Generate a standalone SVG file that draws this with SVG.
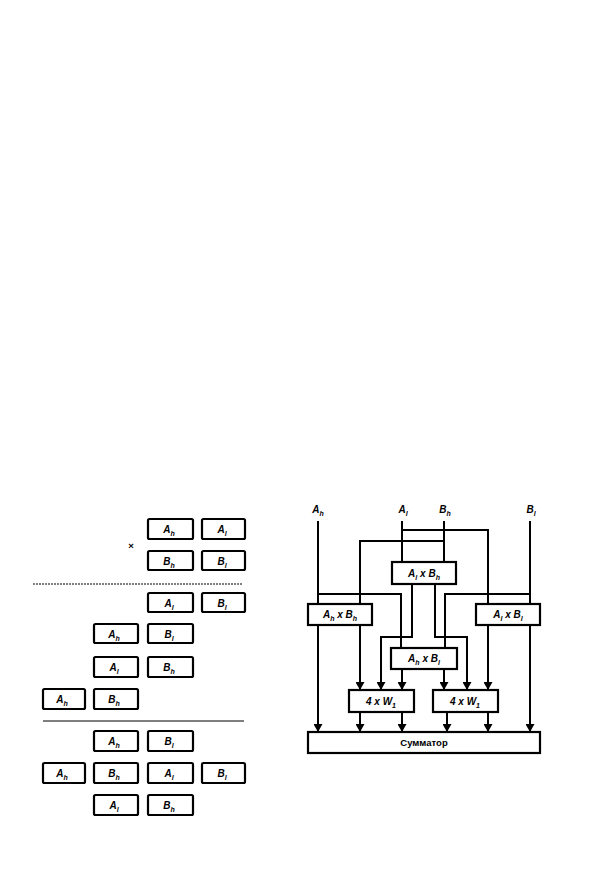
<svg xmlns="http://www.w3.org/2000/svg" width="603" height="882" viewBox="0 0 603 882">
<defs>
<style>
.b{fill:#fff;stroke:#000;stroke-width:2.2}
.t{font-family:"Liberation Sans",Arial,sans-serif;font-weight:bold;font-style:italic;font-size:10px;text-anchor:middle}
.s{font-size:7px}
.w{fill:none;stroke:#000;stroke-width:2}
.a{fill:none;stroke:#000;stroke-width:2;marker-end:url(#ah)}
.n{font-family:"Liberation Sans",Arial,sans-serif;font-weight:bold;font-size:9.5px;text-anchor:middle}
</style>
<marker id="ah" markerWidth="9" markerHeight="9" refX="8" refY="4.5" orient="auto" markerUnits="userSpaceOnUse"><path d="M0,0 L8,4.5 L0,9 z" fill="#000"/></marker>
</defs>
<rect width="603" height="882" fill="#fff"/>

<!-- Left scheme -->
<g id="left">
<text x="131" y="549" class="n" font-size="9">×</text>
<line x1="33" y1="584" x2="243" y2="584" stroke="#000" stroke-width="1" stroke-dasharray="2 1"/>
<line x1="43" y1="721" x2="244" y2="721" stroke="#000" stroke-width="1.2"/>
<g id="m_Ah"><rect class="b" x="148" y="519" width="45" height="20" rx="1.5"/><text class="t" x="169" y="533">A<tspan class="s" dy="3">h</tspan></text></g>
<g id="m_Al"><rect class="b" x="202" y="519" width="43" height="20" rx="1.5"/><text class="t" x="222" y="533">A<tspan class="s" dy="3">l</tspan></text></g>
<g id="m_Bh"><rect class="b" x="148" y="551" width="45" height="19" rx="1.5"/><text class="t" x="169" y="565">B<tspan class="s" dy="3">h</tspan></text></g>
<g id="m_Bl"><rect class="b" x="202" y="551" width="43" height="19" rx="1.5"/><text class="t" x="222" y="565">B<tspan class="s" dy="3">l</tspan></text></g>

<g id="r1_Al"><rect class="b" x="148" y="593" width="45" height="19" rx="1.5"/><text class="t" x="169" y="607">A<tspan class="s" dy="3">l</tspan></text></g>
<g id="r1_Bl"><rect class="b" x="202" y="593" width="43" height="19" rx="1.5"/><text class="t" x="222" y="607">B<tspan class="s" dy="3">l</tspan></text></g>
<g id="r2_Ah"><rect class="b" x="94" y="624" width="44" height="19" rx="1.5"/><text class="t" x="114" y="638">A<tspan class="s" dy="3">h</tspan></text></g>
<g id="r2_Bl"><rect class="b" x="148" y="624" width="45" height="19" rx="1.5"/><text class="t" x="169" y="638">B<tspan class="s" dy="3">l</tspan></text></g>
<g id="r3_Al"><rect class="b" x="94" y="657" width="44" height="20" rx="1.5"/><text class="t" x="114" y="671">A<tspan class="s" dy="3">l</tspan></text></g>
<g id="r3_Bh"><rect class="b" x="148" y="657" width="45" height="20" rx="1.5"/><text class="t" x="169" y="671">B<tspan class="s" dy="3">h</tspan></text></g>
<g id="r4_Ah"><rect class="b" x="43" y="689" width="42" height="20" rx="1.5"/><text class="t" x="62" y="703">A<tspan class="s" dy="3">h</tspan></text></g>
<g id="r4_Bh"><rect class="b" x="94" y="689" width="44" height="20" rx="1.5"/><text class="t" x="114" y="703">B<tspan class="s" dy="3">h</tspan></text></g>

<g id="r5_Ah"><rect class="b" x="94" y="731" width="44" height="20" rx="1.5"/><text class="t" x="114" y="745">A<tspan class="s" dy="3">h</tspan></text></g>
<g id="r5_Bl"><rect class="b" x="148" y="731" width="45" height="20" rx="1.5"/><text class="t" x="169" y="745">B<tspan class="s" dy="3">l</tspan></text></g>
<g id="r6_Ah"><rect class="b" x="43" y="763" width="42" height="20" rx="1.5"/><text class="t" x="62" y="777">A<tspan class="s" dy="3">h</tspan></text></g>
<g id="r6_Bh"><rect class="b" x="94" y="763" width="44" height="20" rx="1.5"/><text class="t" x="114" y="777">B<tspan class="s" dy="3">h</tspan></text></g>
<g id="r6_Al"><rect class="b" x="148" y="763" width="45" height="20" rx="1.5"/><text class="t" x="169" y="777">A<tspan class="s" dy="3">l</tspan></text></g>
<g id="r6_Bl"><rect class="b" x="202" y="763" width="43" height="20" rx="1.5"/><text class="t" x="222" y="777">B<tspan class="s" dy="3">l</tspan></text></g>
<g id="r7_Al"><rect class="b" x="94" y="795" width="44" height="20" rx="1.5"/><text class="t" x="114" y="809">A<tspan class="s" dy="3">l</tspan></text></g>
<g id="r7_Bh"><rect class="b" x="148" y="795" width="45" height="20" rx="1.5"/><text class="t" x="169" y="809">B<tspan class="s" dy="3">h</tspan></text></g>
</g>

<!-- Right scheme: connectors -->
<g id="connectors">
<path class="w" d="M318,521 V604"/>
<path class="w" d="M318,594 H401 V648"/>
<path class="w" d="M360,604 V541 H444"/>
<path class="w" d="M402,521 V562"/>
<path class="w" d="M402,530 H488 V604"/>
<path class="w" d="M444,521 V562"/>
<path class="w" d="M530,521 V604"/>
<path class="w" d="M530,594 H445 V648"/>
<path class="a" d="M318,625 V732"/>
<path class="a" d="M360,625 V690"/>
<path class="a" d="M412,584 V637 H381 V690"/>
<path class="a" d="M435,584 V637 H467 V690"/>
<path class="a" d="M488,625 V690"/>
<path class="a" d="M530,625 V732"/>
<path class="a" d="M402,669 V690"/>
<path class="a" d="M444,669 V690"/>
<path class="a" d="M360,712 V732"/>
<path class="a" d="M402,712 V732"/>
<path class="a" d="M447,712 V732"/>
<path class="a" d="M488,712 V732"/>
</g>

<g id="inputs">
<text class="t" x="318" y="513">A<tspan class="s" dy="3">h</tspan></text>
<text class="t" x="403" y="513">A<tspan class="s" dy="3">l</tspan></text>
<text class="t" x="445" y="513">B<tspan class="s" dy="3">h</tspan></text>
<text class="t" x="531" y="513">B<tspan class="s" dy="3">l</tspan></text>
</g>

<g id="AlBh"><rect class="b" x="392" y="562" width="64" height="22"/><text class="t" x="424" y="577">A<tspan class="s" dy="3">l</tspan><tspan dy="-3"> x B</tspan><tspan class="s" dy="3">h</tspan></text></g>
<g id="AhBh"><rect class="b" x="308" y="604" width="64" height="21"/><text class="t" x="340" y="618">A<tspan class="s" dy="3">h</tspan><tspan dy="-3"> x B</tspan><tspan class="s" dy="3">h</tspan></text></g>
<g id="AlBl"><rect class="b" x="476" y="604" width="64" height="21"/><text class="t" x="508" y="618">A<tspan class="s" dy="3">l</tspan><tspan dy="-3"> x B</tspan><tspan class="s" dy="3">l</tspan></text></g>
<g id="AhBl"><rect class="b" x="391" y="648" width="66" height="21"/><text class="t" x="424" y="662">A<tspan class="s" dy="3">h</tspan><tspan dy="-3"> x B</tspan><tspan class="s" dy="3">l</tspan></text></g>
<g id="W1a"><rect class="b" x="349" y="690" width="65" height="22"/><text class="t" x="381" y="705">4 x W<tspan class="s" dy="3">1</tspan></text></g>
<g id="W1b"><rect class="b" x="433" y="690" width="65" height="22"/><text class="t" x="465" y="705">4 x W<tspan class="s" dy="3">1</tspan></text></g>
<g id="adder"><rect class="b" x="308" y="732" width="232" height="21"/><text class="n" x="424" y="746">Сумматор</text></g>
</svg>
